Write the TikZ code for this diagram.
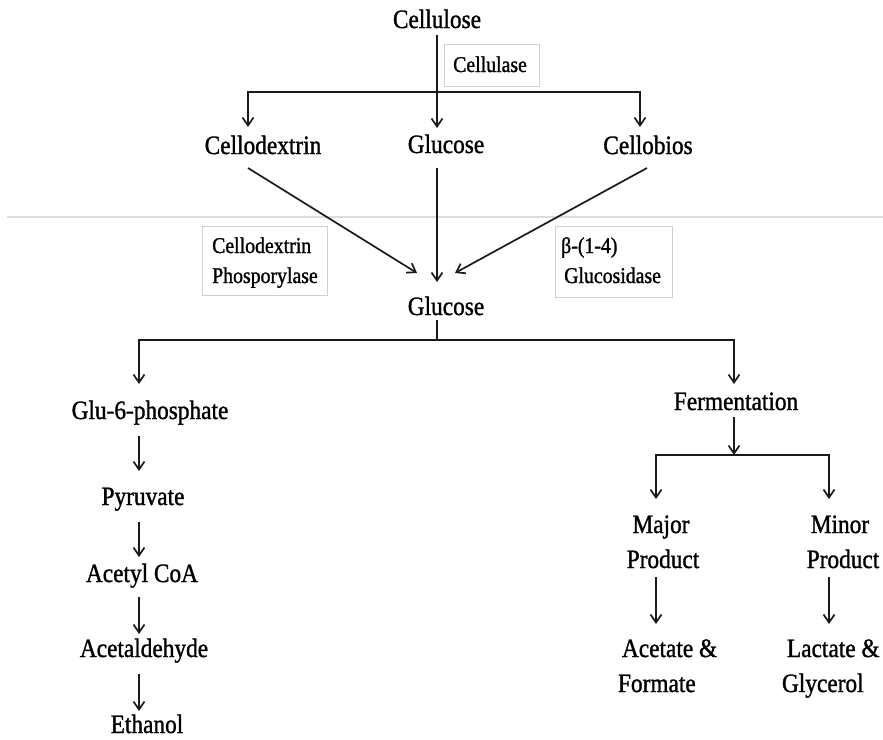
\documentclass[tikz,border=0pt]{standalone}
\usepackage{fontspec}
\setmainfont{Liberation Serif}[FakeStretch=0.88, FakeBold=1.2]
\usetikzlibrary{arrows.meta,calc}

\definecolor{inkline}{HTML}{1A1A1A}
\definecolor{boxline}{HTML}{CFCFCF}
\definecolor{sepgray}{HTML}{DDDDDD}

\tikzset{
  label/.style={font=\fontsize{26.5}{30}\selectfont, inner sep=0pt, outer sep=0pt,
                text height=16pt, text depth=0pt, anchor=base},
  boxlabel/.style={font=\fontsize{22.5}{26}\selectfont, inner sep=0pt, anchor=base west},
  enzbox/.style={draw=boxline, line width=1pt, inner sep=0pt, anchor=north west},
  arr/.style={draw=inkline, line width=1.7pt, -{Straight Barb[length=8pt,width=11pt]}},
  plain/.style={draw=inkline, line width=1.7pt},
  sepline/.style={draw=sepgray, line width=1.6pt}
}

\begin{document}
\begin{tikzpicture}[x=1pt,y=-1pt]
\useasboundingbox (0,0) rectangle (883,739);

% columns used by the connectors
\coordinate (lcol) at (139,0);
\coordinate (acol) at (248,0);
\coordinate (mcol) at (437,0);
\coordinate (bcol) at (640,0);
\coordinate (jcol) at (656,0);
\coordinate (fcol) at (734,0);
\coordinate (ncol) at (829,0);

% separator between the extracellular and intracellular parts
\draw[sepline] (7,217) -- (883,217);

% compounds
\node[label] (cellulose) at (437,28)  {Cellulose};
\node[label] (cdex)      at (263,154) {Cellodextrin};
\node[label] (glc1)      at (446,153) {Glucose};
\node[label] (cbios)     at (648,154) {Cellobios};
\node[label] (glc2)      at (446,315) {Glucose};

\node[label] (glu6) at (150,419) {Glu-6-phosphate};
\node[label] (pyr)  at (143,505) {Pyruvate};
\node[label] (acoa) at (142,582) {Acetyl CoA};
\node[label] (aald) at (144,657) {Acetaldehyde};
\node[label] (eth)  at (147,733) {Ethanol};

\node[label] (ferm)   at (736,410) {Fermentation};
\node[label] (major1) at (661,533) {Major};
\node[label] (major2) at (663,568) {Product};
\node[label] (minor1) at (840,533) {Minor};
\node[label] (minor2) at (843,568) {Product};
\node[label, anchor=base west] (acet1) at (622,657) {Acetate \&};
\node[label, anchor=base west] (acet2) at (618,692) {Formate};
\node[label, anchor=base west] (lact1) at (787,657) {Lactate \&};
\node[label, anchor=base west] (lact2) at (782,692) {Glycerol};

% enzymes
\node[enzbox, minimum width=95pt, minimum height=42pt] (cbox) at (444,44) {};
\node[boxlabel] (cbtxt) at ($(cbox.north west)+(9,28)$) {Cellulase};

\node[enzbox, minimum width=125pt, minimum height=69pt] (pbox) at (202,226) {};
\node[boxlabel] (pbtxt1) at ($(pbox.north west)+(10,27)$) {Cellodextrin};
\node[boxlabel] (pbtxt2) at ($(pbox.north west)+(10,57)$) {Phosporylase};

\node[enzbox, minimum width=117pt, minimum height=71pt] (bbox) at (555,226) {};
\node[boxlabel] (bbtxt1) at ($(bbox.north west)+(6,27)$) {β-(1-4)};
\node[boxlabel] (bbtxt2) at ($(bbox.north west)+(9,57)$) {Glucosidase};

% cellulose hydrolysis
\draw[arr] ($(cellulose.south -| mcol)+(0,7)$) -- ($(glc1.north -| mcol)+(0,-9)$);
\coordinate (s1) at ($(cellulose.south -| mcol)+(0,64)$);
\draw[arr] (s1) -| ($(cdex.north -| acol)+(0,-11)$);
\draw[arr] (s1) -| ($(cbios.north -| bcol)+(0,-11)$);

% uptake to glucose
\draw[arr] ($(cdex.south -| acol)+(0,14)$) -- ($(glc2.north)+(-29,-26)$);
\draw[arr] ($(glc1.south -| mcol)+(0,15)$) -- ($(glc2.north -| mcol)+(0,-17)$);
\draw[arr] ($(cbios.south)+(-1,14)$) -- ($(glc2.north)+(9,-26)$);

% glucose branches
\coordinate (s2) at ($(glc2.south -| mcol)+(0,25)$);
\draw[plain] ($(glc2.south -| mcol)+(0,5)$) -- (s2);
\draw[arr] (s2) -| ($(glu6.north -| lcol)+(0,-19)$);
\draw[arr] (s2) -| ($(ferm.north -| fcol)+(0,-10)$);

% ethanol pathway
\draw[arr] ($(glu6.south -| lcol)+(0,17)$) -- ($(pyr.north -| lcol)+(0,-18)$);
\draw[arr] ($(pyr.south -| lcol)+(0,17)$)  -- ($(acoa.north -| lcol)+(0,-9)$);
\draw[arr] ($(acoa.south -| lcol)+(0,15)$) -- ($(aald.north -| lcol)+(0,-7)$);
\draw[arr] ($(aald.south -| lcol)+(0,17)$) -- ($(eth.north -| lcol)+(0,-6)$);

% fermentation products
\coordinate (s3) at ($(ferm.south -| fcol)+(0,45)$);
\draw[arr] ($(ferm.south -| fcol)+(0,7)$) -- (s3);
\draw[arr] (s3) -| ($(major1.north -| jcol)+(0,-18)$);
\draw[arr] (s3) -| ($(minor1.north -| ncol)+(0,-18)$);
\draw[arr] ($(major2.south -| jcol)+(0,9)$) -- ($(acet1.north -| jcol)+(0,-17)$);
\draw[arr] ($(minor2.south -| ncol)+(0,9)$) -- ($(lact1.north -| ncol)+(0,-17)$);
\end{tikzpicture}
\end{document}
